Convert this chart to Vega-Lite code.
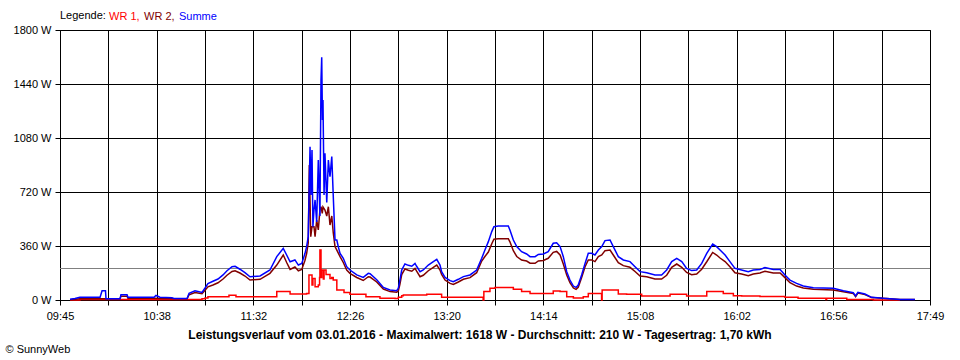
{
  "$schema": "https://vega.github.io/schema/vega-lite/v6.json",
  "width": 870,
  "height": 270,
  "autosize": "none",
  "padding": {"left": 60, "top": 30, "right": 30, "bottom": 60},
  "background": "white",
  "title": {
    "text": "Leistungsverlauf vom 03.01.2016 - Maximalwert: 1618 W - Durchschnitt: 210 W - Tagesertrag: 1,70 kWh",
    "orient": "bottom",
    "anchor": "middle",
    "frame": "group",
    "offset": -24,
    "dx": -15,
    "font": "Liberation Sans",
    "fontSize": 12,
    "fontWeight": "bold",
    "color": "black"
  },
  "datasets": {
    "wr1": [
      {"t": 590.6, "w": 0}, {"t": 596.1, "w": 3}, {"t": 664.0, "w": 8}, {"t": 665.7, "w": 13}, {"t": 667.3, "w": 22},
      {"t": 679.0, "w": 31}, {"t": 682.9, "w": 22}, {"t": 705.6, "w": 56}, {"t": 713.0, "w": 40}, {"t": 722.2, "w": 44},
      {"t": 723.5, "w": 167}, {"t": 725.2, "w": 100}, {"t": 725.7, "w": 144}, {"t": 726.9, "w": 89}, {"t": 728.7, "w": 100},
      {"t": 729.4, "w": 150}, {"t": 729.6, "w": 333}, {"t": 730.2, "w": 150}, {"t": 730.6, "w": 200}, {"t": 731.5, "w": 140},
      {"t": 731.9, "w": 200}, {"t": 733.0, "w": 170}, {"t": 735.2, "w": 144}, {"t": 736.2, "w": 150}, {"t": 737.0, "w": 133},
      {"t": 739.0, "w": 67}, {"t": 743.0, "w": 50}, {"t": 746.3, "w": 38}, {"t": 755.2, "w": 22}, {"t": 763.0, "w": 11},
      {"t": 771.4, "w": 10}, {"t": 773.2, "w": 18}, {"t": 775.1, "w": 29}, {"t": 776.0, "w": 33}, {"t": 789.0, "w": 38},
      {"t": 797.3, "w": 18}, {"t": 820.4, "w": 0}, {"t": 820.8, "w": 56}, {"t": 824.2, "w": 78}, {"t": 827.0, "w": 84},
      {"t": 837.2, "w": 71}, {"t": 841.8, "w": 56}, {"t": 846.5, "w": 44}, {"t": 859.4, "w": 60}, {"t": 863.2, "w": 56},
      {"t": 866.9, "w": 22}, {"t": 870.6, "w": 13}, {"t": 876.1, "w": 22}, {"t": 878.9, "w": 44}, {"t": 886.3, "w": 0},
      {"t": 886.6, "w": 67}, {"t": 895.6, "w": 40}, {"t": 900.2, "w": 38}, {"t": 908.6, "w": 27}, {"t": 924.4, "w": 38},
      {"t": 933.6, "w": 27}, {"t": 944.8, "w": 56}, {"t": 954.0, "w": 44}, {"t": 959.6, "w": 29}, {"t": 964.2, "w": 27},
      {"t": 974.4, "w": 24}, {"t": 988.3, "w": 18}, {"t": 995.6, "w": 11}, {"t": 1011.1, "w": 4}, {"t": 1011.5, "w": 11},
      {"t": 1022.7, "w": 4}, {"t": 1037.5, "w": 0}, {"t": 1052.3, "w": 0}
    ],
    "wr2": [
      {"t": 590.6, "w": 2}, {"t": 596.1, "w": 9}, {"t": 607.3, "w": 9}, {"t": 610.3, "w": 9}, {"t": 618.4, "w": 9},
      {"t": 618.9, "w": 25}, {"t": 622.3, "w": 25}, {"t": 622.8, "w": 12}, {"t": 637.3, "w": 12}, {"t": 640.6, "w": 10},
      {"t": 655.7, "w": 8}, {"t": 656.8, "w": 35}, {"t": 660.1, "w": 50}, {"t": 664.0, "w": 42}, {"t": 665.7, "w": 65},
      {"t": 667.3, "w": 88}, {"t": 670.1, "w": 100}, {"t": 672.9, "w": 115}, {"t": 675.7, "w": 140}, {"t": 677.9, "w": 165},
      {"t": 680.7, "w": 190}, {"t": 682.4, "w": 195}, {"t": 685.1, "w": 180}, {"t": 687.9, "w": 160}, {"t": 690.7, "w": 133},
      {"t": 696.3, "w": 138}, {"t": 701.8, "w": 178}, {"t": 705.6, "w": 233}, {"t": 709.2, "w": 300}, {"t": 711.1, "w": 250},
      {"t": 713.0, "w": 204}, {"t": 715.7, "w": 220}, {"t": 717.6, "w": 195}, {"t": 719.5, "w": 204}, {"t": 721.3, "w": 265},
      {"t": 722.2, "w": 310}, {"t": 723.1, "w": 380}, {"t": 723.7, "w": 900}, {"t": 724.5, "w": 422}, {"t": 725.2, "w": 489},
      {"t": 726.3, "w": 489}, {"t": 726.9, "w": 422}, {"t": 727.8, "w": 533}, {"t": 728.7, "w": 467}, {"t": 729.6, "w": 600},
      {"t": 730.2, "w": 622}, {"t": 730.9, "w": 578}, {"t": 731.3, "w": 620}, {"t": 732.4, "w": 600}, {"t": 733.4, "w": 560},
      {"t": 734.3, "w": 622}, {"t": 735.2, "w": 500}, {"t": 736.2, "w": 560}, {"t": 737.0, "w": 450}, {"t": 738.0, "w": 356},
      {"t": 739.0, "w": 333}, {"t": 740.8, "w": 289}, {"t": 742.6, "w": 250}, {"t": 744.5, "w": 200}, {"t": 746.3, "w": 178},
      {"t": 750.1, "w": 150}, {"t": 753.7, "w": 130}, {"t": 756.5, "w": 155}, {"t": 757.5, "w": 153}, {"t": 761.2, "w": 120},
      {"t": 764.9, "w": 73}, {"t": 768.6, "w": 56}, {"t": 772.3, "w": 52}, {"t": 773.2, "w": 60}, {"t": 774.1, "w": 105},
      {"t": 775.1, "w": 170}, {"t": 776.9, "w": 207}, {"t": 778.8, "w": 198}, {"t": 780.7, "w": 192}, {"t": 782.5, "w": 211},
      {"t": 783.4, "w": 192}, {"t": 785.3, "w": 155}, {"t": 787.1, "w": 165}, {"t": 789.9, "w": 195}, {"t": 792.7, "w": 218},
      {"t": 794.6, "w": 233}, {"t": 796.4, "w": 200}, {"t": 797.3, "w": 171}, {"t": 799.2, "w": 133}, {"t": 802.0, "w": 111},
      {"t": 803.8, "w": 104}, {"t": 806.6, "w": 120}, {"t": 809.4, "w": 138}, {"t": 813.1, "w": 149}, {"t": 816.8, "w": 182},
      {"t": 819.6, "w": 260}, {"t": 821.4, "w": 290}, {"t": 823.3, "w": 320}, {"t": 825.2, "w": 375}, {"t": 826.4, "w": 405},
      {"t": 828.8, "w": 409}, {"t": 834.4, "w": 409}, {"t": 835.3, "w": 388}, {"t": 837.2, "w": 329}, {"t": 839.1, "w": 290},
      {"t": 841.8, "w": 266}, {"t": 844.6, "w": 260}, {"t": 846.5, "w": 245}, {"t": 849.3, "w": 245}, {"t": 851.1, "w": 260},
      {"t": 853.9, "w": 263}, {"t": 856.6, "w": 278}, {"t": 859.4, "w": 318}, {"t": 861.3, "w": 324}, {"t": 863.2, "w": 300},
      {"t": 865.0, "w": 240}, {"t": 866.9, "w": 167}, {"t": 868.7, "w": 115}, {"t": 870.6, "w": 80}, {"t": 872.1, "w": 71},
      {"t": 873.3, "w": 85}, {"t": 875.2, "w": 150}, {"t": 877.1, "w": 222}, {"t": 878.9, "w": 267}, {"t": 880.8, "w": 267},
      {"t": 882.6, "w": 256}, {"t": 884.5, "w": 290}, {"t": 886.4, "w": 300}, {"t": 888.2, "w": 329}, {"t": 891.0, "w": 333},
      {"t": 892.8, "w": 300}, {"t": 895.6, "w": 249}, {"t": 898.4, "w": 229}, {"t": 902.1, "w": 218}, {"t": 904.9, "w": 190},
      {"t": 907.7, "w": 160}, {"t": 911.4, "w": 155}, {"t": 916.0, "w": 140}, {"t": 919.7, "w": 140}, {"t": 922.5, "w": 165},
      {"t": 925.3, "w": 218}, {"t": 928.1, "w": 240}, {"t": 930.9, "w": 218}, {"t": 933.6, "w": 184}, {"t": 936.4, "w": 169},
      {"t": 939.2, "w": 173}, {"t": 942.0, "w": 205}, {"t": 944.8, "w": 255}, {"t": 948.1, "w": 317}, {"t": 950.3, "w": 300},
      {"t": 952.2, "w": 280}, {"t": 955.0, "w": 256}, {"t": 957.7, "w": 222}, {"t": 960.5, "w": 182}, {"t": 964.2, "w": 173},
      {"t": 967.9, "w": 162}, {"t": 970.7, "w": 173}, {"t": 974.4, "w": 180}, {"t": 977.2, "w": 192}, {"t": 981.8, "w": 180},
      {"t": 985.6, "w": 180}, {"t": 988.3, "w": 149}, {"t": 991.1, "w": 115}, {"t": 994.8, "w": 93}, {"t": 998.5, "w": 80},
      {"t": 1004.1, "w": 71}, {"t": 1015.2, "w": 67}, {"t": 1020.8, "w": 55}, {"t": 1026.3, "w": 44}, {"t": 1027.6, "w": 22},
      {"t": 1028.9, "w": 46}, {"t": 1032.8, "w": 36}, {"t": 1036.5, "w": 16}, {"t": 1043.0, "w": 11}, {"t": 1052.3, "w": 4},
      {"t": 1060.6, "w": 4}
    ],
    "sum": [
      {"t": 590.6, "w": 5}, {"t": 593.3, "w": 10}, {"t": 596.1, "w": 18}, {"t": 607.3, "w": 18}, {"t": 608.4, "w": 62},
      {"t": 610.3, "w": 62}, {"t": 610.6, "w": 8}, {"t": 618.4, "w": 8}, {"t": 618.9, "w": 35}, {"t": 622.3, "w": 35},
      {"t": 622.8, "w": 18}, {"t": 637.3, "w": 18}, {"t": 638.4, "w": 30}, {"t": 640.6, "w": 18}, {"t": 647.3, "w": 15},
      {"t": 648.4, "w": 10}, {"t": 655.7, "w": 10}, {"t": 656.8, "w": 45}, {"t": 660.1, "w": 61}, {"t": 664.0, "w": 50},
      {"t": 665.7, "w": 80}, {"t": 667.3, "w": 110}, {"t": 670.1, "w": 125}, {"t": 672.9, "w": 140}, {"t": 675.7, "w": 167},
      {"t": 677.9, "w": 195}, {"t": 680.7, "w": 222}, {"t": 682.4, "w": 225}, {"t": 685.1, "w": 205}, {"t": 687.9, "w": 182},
      {"t": 690.7, "w": 155}, {"t": 696.3, "w": 160}, {"t": 701.8, "w": 200}, {"t": 705.6, "w": 289}, {"t": 709.2, "w": 344},
      {"t": 711.1, "w": 300}, {"t": 713.0, "w": 255}, {"t": 715.7, "w": 267}, {"t": 717.6, "w": 233}, {"t": 719.5, "w": 244},
      {"t": 721.3, "w": 311}, {"t": 722.2, "w": 356}, {"t": 723.1, "w": 422}, {"t": 724.1, "w": 1022}, {"t": 724.6, "w": 700},
      {"t": 725.2, "w": 1000}, {"t": 725.7, "w": 489}, {"t": 726.3, "w": 600}, {"t": 726.9, "w": 667}, {"t": 727.8, "w": 520},
      {"t": 728.7, "w": 933}, {"t": 729.6, "w": 560}, {"t": 730.2, "w": 1467}, {"t": 730.6, "w": 1618}, {"t": 731.0, "w": 1200},
      {"t": 731.3, "w": 1333}, {"t": 731.9, "w": 700}, {"t": 732.4, "w": 978}, {"t": 733.4, "w": 650}, {"t": 734.3, "w": 933},
      {"t": 735.2, "w": 822}, {"t": 736.2, "w": 956}, {"t": 737.0, "w": 700}, {"t": 738.0, "w": 400}, {"t": 739.0, "w": 400},
      {"t": 739.8, "w": 356}, {"t": 740.8, "w": 311}, {"t": 742.6, "w": 278}, {"t": 744.5, "w": 222}, {"t": 746.3, "w": 200},
      {"t": 750.1, "w": 167}, {"t": 753.7, "w": 151}, {"t": 756.5, "w": 178}, {"t": 757.5, "w": 175}, {"t": 761.2, "w": 135},
      {"t": 764.9, "w": 84}, {"t": 768.6, "w": 67}, {"t": 772.3, "w": 62}, {"t": 773.2, "w": 78}, {"t": 774.1, "w": 133},
      {"t": 775.1, "w": 200}, {"t": 776.9, "w": 240}, {"t": 778.8, "w": 231}, {"t": 780.7, "w": 225}, {"t": 782.5, "w": 244},
      {"t": 783.4, "w": 225}, {"t": 785.3, "w": 189}, {"t": 787.1, "w": 200}, {"t": 789.9, "w": 233}, {"t": 792.7, "w": 256},
      {"t": 794.6, "w": 271}, {"t": 796.4, "w": 233}, {"t": 797.3, "w": 189}, {"t": 799.2, "w": 151}, {"t": 802.0, "w": 129},
      {"t": 803.8, "w": 122}, {"t": 806.6, "w": 138}, {"t": 809.4, "w": 156}, {"t": 813.1, "w": 167}, {"t": 816.8, "w": 200},
      {"t": 819.6, "w": 278}, {"t": 821.4, "w": 333}, {"t": 823.3, "w": 389}, {"t": 825.2, "w": 456}, {"t": 826.4, "w": 489},
      {"t": 828.8, "w": 493}, {"t": 834.4, "w": 493}, {"t": 835.3, "w": 467}, {"t": 837.2, "w": 400}, {"t": 839.1, "w": 356},
      {"t": 841.8, "w": 322}, {"t": 844.6, "w": 307}, {"t": 846.5, "w": 289}, {"t": 849.3, "w": 289}, {"t": 851.1, "w": 304},
      {"t": 853.9, "w": 307}, {"t": 856.6, "w": 322}, {"t": 859.4, "w": 378}, {"t": 861.3, "w": 382}, {"t": 863.2, "w": 356},
      {"t": 865.0, "w": 289}, {"t": 866.9, "w": 189}, {"t": 868.7, "w": 133}, {"t": 870.6, "w": 93}, {"t": 872.1, "w": 84},
      {"t": 873.3, "w": 100}, {"t": 875.2, "w": 167}, {"t": 877.1, "w": 244}, {"t": 878.9, "w": 311}, {"t": 880.8, "w": 311},
      {"t": 882.6, "w": 300}, {"t": 884.5, "w": 333}, {"t": 886.4, "w": 356}, {"t": 888.2, "w": 396}, {"t": 891.0, "w": 400},
      {"t": 892.8, "w": 356}, {"t": 895.6, "w": 289}, {"t": 898.4, "w": 267}, {"t": 902.1, "w": 256}, {"t": 904.9, "w": 222},
      {"t": 907.7, "w": 189}, {"t": 911.4, "w": 182}, {"t": 916.0, "w": 167}, {"t": 919.7, "w": 167}, {"t": 922.5, "w": 200},
      {"t": 925.3, "w": 256}, {"t": 928.1, "w": 278}, {"t": 930.9, "w": 256}, {"t": 933.6, "w": 211}, {"t": 936.4, "w": 196},
      {"t": 939.2, "w": 200}, {"t": 942.0, "w": 244}, {"t": 944.8, "w": 311}, {"t": 948.1, "w": 373}, {"t": 950.3, "w": 356},
      {"t": 952.2, "w": 333}, {"t": 955.0, "w": 300}, {"t": 957.7, "w": 256}, {"t": 960.5, "w": 211}, {"t": 964.2, "w": 200},
      {"t": 967.9, "w": 189}, {"t": 970.7, "w": 200}, {"t": 974.4, "w": 204}, {"t": 977.2, "w": 216}, {"t": 981.8, "w": 204},
      {"t": 985.6, "w": 204}, {"t": 988.3, "w": 167}, {"t": 991.1, "w": 133}, {"t": 994.8, "w": 111}, {"t": 998.5, "w": 93},
      {"t": 1004.1, "w": 82}, {"t": 1015.2, "w": 78}, {"t": 1020.8, "w": 62}, {"t": 1026.3, "w": 49}, {"t": 1027.6, "w": 27},
      {"t": 1028.9, "w": 51}, {"t": 1032.8, "w": 40}, {"t": 1036.5, "w": 18}, {"t": 1043.0, "w": 11}, {"t": 1052.3, "w": 4},
      {"t": 1060.6, "w": 4}
    ],
    "avg": [{"avg": 210}]
  },
  "encoding": {
    "x": {
      "field": "t",
      "type": "quantitative",
      "scale": {"domain": [585, 1069], "nice": false, "zero": false},
      "axis": {
        "title": "© SunnyWeb",
        "titleX": -55,
        "titleY": 49,
        "titleAlign": "left",
        "titleBaseline": "middle",
        "titleAngle": 0,
        "titleFont": "Liberation Sans",
        "titleFontSize": 11,
        "titleFontWeight": "normal",
        "titleColor": "black",
        "values": [585, 611.889, 638.778, 665.667, 692.556, 719.444, 746.333, 773.222, 800.111, 827, 853.889, 880.778, 907.667, 934.556, 961.444, 988.333, 1015.222, 1042.111, 1069],
        "labelExpr": "['09:45','','10:38','','11:32','','12:26','','13:20','','14:14','','15:08','','16:02','','16:56','','17:49'][round((datum.value - 585) / 26.8889)]",
        "labelFlush": false,
        "labelOverlap": false,
        "labelPadding": 5,
        "tickSize": 5,
        "grid": true
      }
    },
    "y": {
      "field": "w",
      "type": "quantitative",
      "scale": {"domain": [0, 1800], "nice": false},
      "axis": {
        "title": null,
        "values": [0, 360, 720, 1080, 1440, 1800],
        "labelExpr": "datum.value + ' W'",
        "labelPadding": 4,
        "tickSize": 5,
        "grid": true
      }
    }
  },
  "layer": [
    {
      "data": {"name": "avg"},
      "mark": {"type": "rule", "color": "#808080", "strokeWidth": 1},
      "encoding": {"x": null, "y": {"field": "avg", "type": "quantitative"}}
    },
    {
      "data": {"name": "wr1"},
      "mark": {"type": "line", "strokeWidth": 1.5, "interpolate": "step-after"},
      "encoding": {
        "color": {
          "datum": "WR 1",
          "type": "nominal",
          "scale": {"domain": ["WR 1", "WR 2", "Summe"], "range": ["#ff0000", "#800000", "#0000ff"]},
          "legend": {
            "orient": "none",
            "legendX": 0,
            "legendY": -19,
            "direction": "horizontal",
            "title": "Legende:",
            "titleOrient": "left",
            "titleFont": "Liberation Sans",
            "titleFontSize": 11,
            "titleFontWeight": "normal",
            "titleColor": "black",
            "titlePadding": 4,
            "labelFont": "Liberation Sans",
            "labelFontSize": 11,
            "labelExpr": "datum.label == 'Summe' ? 'Summe' : datum.label + ','",
            "symbolSize": 1,
            "symbolStrokeWidth": 0,
            "symbolOpacity": 0,
            "labelOffset": -12,
            "columnPadding": 4,
            "encode": {
              "labels": {"update": {"fill": {"scale": "color", "field": "value"}}}
            }
          }
        }
      }
    },
    {
      "data": {"name": "wr2"},
      "mark": {"type": "line", "strokeWidth": 1.5},
      "encoding": {"color": {"datum": "WR 2", "type": "nominal"}}
    },
    {
      "data": {"name": "sum"},
      "mark": {"type": "line", "strokeWidth": 1.5},
      "encoding": {"color": {"datum": "Summe", "type": "nominal"}}
    }
  ],
  "config": {
    "font": "Liberation Sans",
    "view": {"stroke": "black", "strokeWidth": 1},
    "axis": {
      "labelFont": "Liberation Sans",
      "labelFontSize": 11,
      "labelColor": "black",
      "tickColor": "black",
      "domainColor": "black",
      "gridColor": "black",
      "gridOpacity": 1,
      "gridWidth": 1,
      "domainWidth": 1,
      "tickWidth": 1
    }
  }
}
